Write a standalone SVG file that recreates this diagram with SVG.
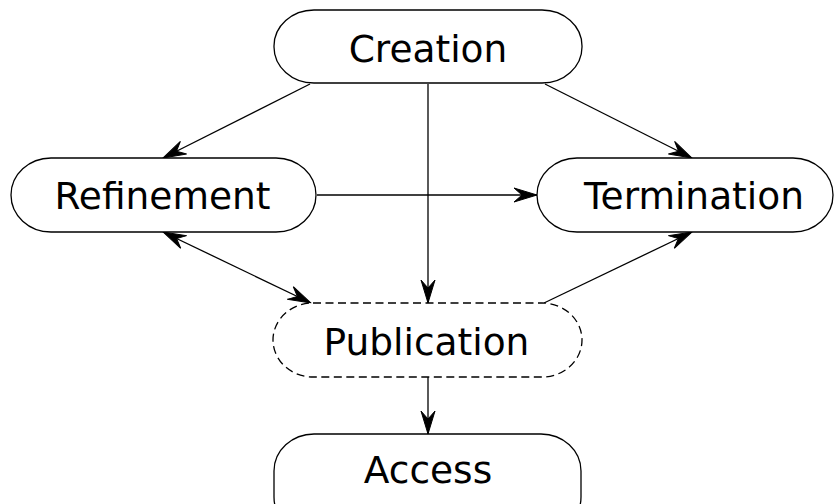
<svg xmlns="http://www.w3.org/2000/svg" width="834" height="504" viewBox="0 0 834 504">
<defs>
<style>
.node{fill:#fff;stroke:#000;stroke-width:1.3}
.dashed{stroke-dasharray:8,4.5}
.lbl{font-family:"DejaVu Sans",sans-serif;font-size:37.5px;fill:#000;text-anchor:middle}
.edge{fill:none;stroke:#000;stroke-width:1.3}
</style>
<marker id="ah" viewBox="-24 -8 26 16" refX="0" refY="0" markerWidth="26" markerHeight="16" markerUnits="userSpaceOnUse" orient="auto-start-reverse">
<path d="M0,0 L-23,-7 L-15,0 L-23,7 Z" fill="#000" stroke="#000" stroke-width="1"/>
</marker>
</defs>
<rect width="834" height="504" fill="#fff"/>
<g id="connectors">
<line class="edge" x1="310" y1="84" x2="163" y2="158" marker-end="url(#ah)"/>
<line class="edge" x1="545" y1="84" x2="692" y2="158" marker-end="url(#ah)"/>
<line class="edge" x1="428" y1="84" x2="428" y2="303" marker-end="url(#ah)"/>
<line class="edge" x1="317" y1="195" x2="537" y2="195" marker-end="url(#ah)"/>
<line class="edge" x1="163" y1="232" x2="311" y2="303" marker-start="url(#ah)" marker-end="url(#ah)"/>
<line class="edge" x1="544" y1="303" x2="692" y2="232" marker-end="url(#ah)"/>
<line class="edge" x1="428" y1="377" x2="428" y2="434" marker-end="url(#ah)"/>
</g>
<g id="creation">
<rect class="node" x="274" y="10" width="308" height="73" rx="40" ry="36"/>
<text class="lbl" x="428" y="62">Creation</text>
</g>
<g id="refinement">
<rect class="node" x="11" y="158" width="305" height="74" rx="40" ry="37"/>
<text class="lbl" x="162.5" y="209">Refinement</text>
</g>
<g id="termination">
<rect class="node" x="537" y="158" width="296" height="74" rx="40" ry="37"/>
<text class="lbl" x="694" y="209">Termination</text>
</g>
<g id="publication">
<rect class="node dashed" x="273" y="303" width="309" height="74" rx="40" ry="37"/>
<text class="lbl" x="426.5" y="355">Publication</text>
</g>
<g id="access">
<rect class="node" x="274" y="434" width="307" height="100" rx="40" ry="37"/>
<text class="lbl" x="428" y="483">Access</text>
</g>
</svg>
